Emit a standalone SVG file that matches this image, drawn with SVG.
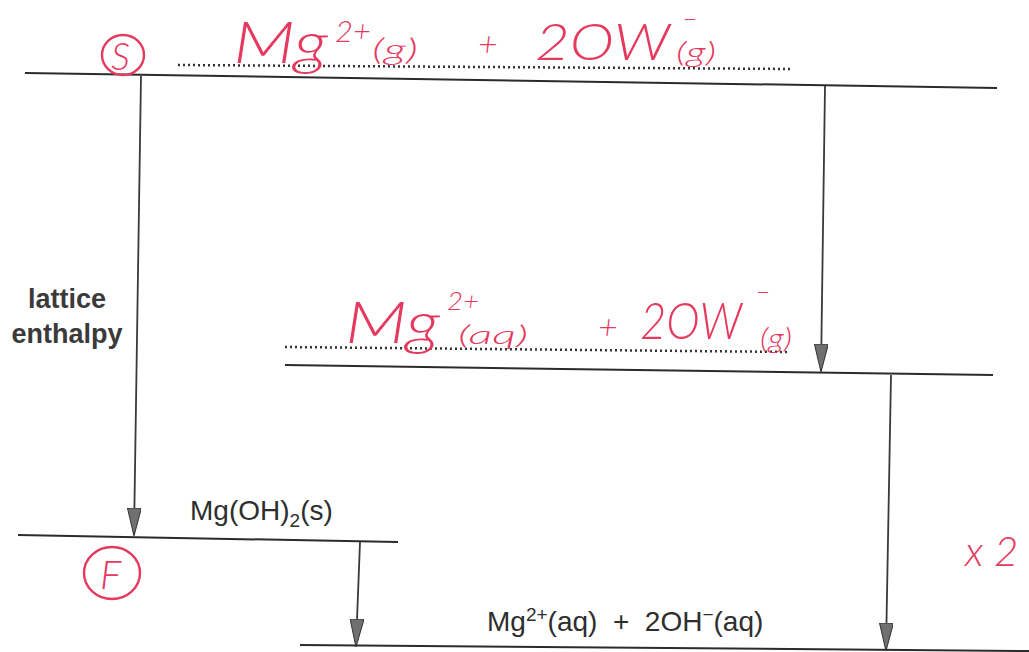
<svg xmlns="http://www.w3.org/2000/svg" width="1029" height="652" viewBox="0 0 1029 652">
<defs>
<marker id="ah" markerWidth="28" markerHeight="14" refX="27" refY="7" orient="auto" markerUnits="userSpaceOnUse" viewBox="0 0 28 14">
<path d="M0,0 L28,7 L0,14 Z" fill="#707070" stroke="#333" stroke-width="1"/>
</marker>
<style>
.lvl{stroke:#2b2b2b;stroke-width:2;fill:none}
.dot{stroke:#333;stroke-width:2.5;stroke-dasharray:2 3;fill:none}
.arr{stroke:#3a3a3a;stroke-width:1.8;fill:none}
.lbl{font-family:"Liberation Sans",Arial,sans-serif;font-size:28px;fill:#2e2e2e}
.bold{font-weight:bold;font-size:27px;fill:#3a3a3a}
.hw{font-family:Lato,"Liberation Sans",sans-serif;font-style:italic;font-weight:300;fill:#e5395e}
.circ{stroke:#e5395e;stroke-width:2.4;fill:none}
</style>
</defs>
<rect width="1029" height="652" fill="#fff"/>

<g id="level-gas">
<line class="lvl" x1="25" y1="73" x2="997" y2="88"/>
<line class="dot" x1="178" y1="65" x2="793" y2="69"/>
</g>
<g id="level-mid">
<line class="lvl" x1="285" y1="365" x2="993" y2="375"/>
<line class="dot" x1="285" y1="347" x2="790" y2="352"/>
</g>
<g id="level-solid">
<line class="lvl" x1="18" y1="535" x2="398" y2="542"/>
<text class="lbl" x="190" y="520">Mg(OH)<tspan font-size="19" dy="7">2</tspan><tspan dy="-7">(s)</tspan></text>
</g>
<g id="level-aq">
<line class="lvl" x1="300" y1="645" x2="1029" y2="651"/>
<text class="lbl" x="487" y="631" xml:space="preserve">Mg<tspan font-size="19" dy="-10">2+</tspan><tspan dy="10">(aq)  +  2OH</tspan><tspan font-size="19" dy="-10">−</tspan><tspan dy="10">(aq)</tspan></text>
</g>
<g id="label-lattice">
<text class="lbl bold" x="67" y="308" text-anchor="middle">lattice</text>
<text class="lbl bold" x="67" y="343" text-anchor="middle">enthalpy</text>
</g>

<g id="connectors">
<line class="arr" x1="141" y1="76" x2="134" y2="535" marker-end="url(#ah)"/>
<line class="arr" x1="825" y1="86" x2="821" y2="371" marker-end="url(#ah)"/>
<line class="arr" x1="891" y1="375" x2="886" y2="650" marker-end="url(#ah)"/>
<line class="arr" x1="360" y1="542" x2="356" y2="646" marker-end="url(#ah)"/>
</g>

<g id="annotations">
<ellipse class="circ" cx="123" cy="55" rx="21" ry="20"/>
<text class="hw" x="111" y="70" font-size="38">S</text>
<ellipse class="circ" cx="112" cy="573" rx="28" ry="26"/>
<text class="hw" x="100" y="589" font-size="40">F</text>

<text class="hw" x="233" y="63" font-size="58" textLength="95" lengthAdjust="spacingAndGlyphs">Mg</text>
<text class="hw" x="335" y="42" font-size="30" textLength="36" lengthAdjust="spacingAndGlyphs">2+</text>
<text class="hw" x="372" y="60" font-size="30" textLength="46" lengthAdjust="spacingAndGlyphs">(g)</text>
<text class="hw" x="478" y="56" font-size="34">+</text>
<text class="hw" x="535" y="60" font-size="52" textLength="135" lengthAdjust="spacingAndGlyphs">2OW</text>
<text class="hw" x="683" y="27" font-size="24">−</text>
<text class="hw" x="676" y="62" font-size="28" textLength="40" lengthAdjust="spacingAndGlyphs">(g)</text>

<text class="hw" x="345" y="343" font-size="58" textLength="95" lengthAdjust="spacingAndGlyphs">Mg</text>
<text class="hw" x="447" y="310" font-size="26" textLength="32" lengthAdjust="spacingAndGlyphs">2+</text>
<text class="hw" x="458" y="344" font-size="26" textLength="70" lengthAdjust="spacingAndGlyphs">(aq)</text>
<text class="hw" x="598" y="339" font-size="34">+</text>
<text class="hw" x="640" y="339" font-size="52" textLength="102" lengthAdjust="spacingAndGlyphs">2OW</text>
<text class="hw" x="756" y="300" font-size="24">−</text>
<text class="hw" x="760" y="348" font-size="28" textLength="32" lengthAdjust="spacingAndGlyphs">(g)</text>

<text class="hw" x="965" y="566" font-size="42">x 2</text>
</g>
</svg>
